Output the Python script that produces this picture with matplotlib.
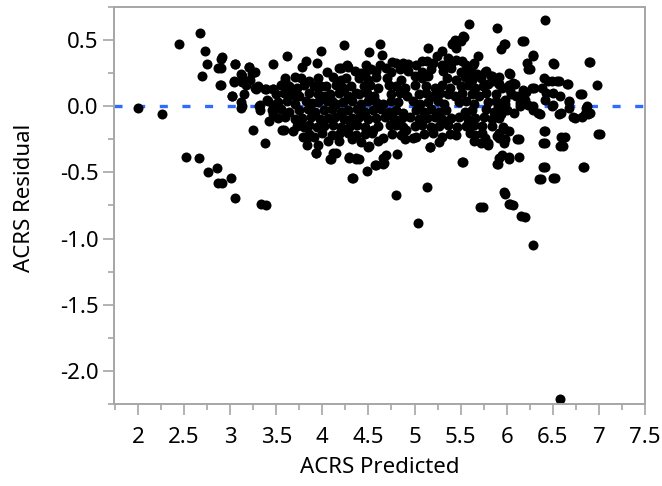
import matplotlib
matplotlib.use("Agg")
import matplotlib.pyplot as plt
from matplotlib.ticker import MultipleLocator

plt.rcParams['font.family'] = ['Noto Sans', 'DejaVu Sans']
plt.rcParams['lines.scale_dashes'] = False

# ---- data: (ACRS Predicted, ACRS Residual) ----
edge_x = [2.00, 2.26, 2.44, 2.67, 2.73, 2.75, 2.69, 2.90, 2.87, 2.89, 3.05, 3.04, 3.02, 3.13, 3.13,
          3.20, 3.27, 3.17, 3.27, 3.25, 3.38, 2.52, 2.66, 2.86, 2.76, 3.01, 2.87, 2.91, 3.05, 3.33,
          3.39, 3.46, 3.62, 3.31, 3.38, 3.46, 3.40, 3.46, 3.56, 3.68, 3.79, 3.79, 3.83, 3.93, 4.08,
          4.12, 4.24, 3.98, 3.94, 3.82, 3.78, 4.32, 4.29, 4.37, 4.48, 4.58, 4.67, 4.80, 4.51, 4.63,
          4.51, 4.65, 4.76, 4.20, 4.27, 4.47,
          6.41, 5.59, 5.89, 5.97, 5.94, 6.17, 6.89, 6.98, 6.50, 6.29, 6.22, 6.23, 6.03, 5.50, 5.44,
          5.53, 5.41, 5.15, 5.30, 5.69, 5.65, 5.78, 5.84, 5.89, 6.40, 6.45, 6.55, 6.65, 6.80, 6.68,
          6.86, 6.88, 6.82, 6.72, 6.57, 6.49, 6.42, 6.99, 6.40, 6.59, 6.58, 6.39, 6.39, 6.35, 6.50,
          6.83, 6.18, 6.27, 6.13, 6.20, 6.29, 6.34, 6.04, 6.07, 6.11, 6.02, 5.95, 5.90, 5.97, 6.03,
          6.16, 5.71, 5.51, 5.17, 5.14, 5.97, 5.98, 5.89, 5.80, 5.73, 5.73,
          5.04, 5.74, 6.07, 6.20, 6.28, 6.58,
          2.91, 2.90, 2.90, 3.05, 3.20, 3.24, 3.12, 3.04, 3.13, 3.22, 3.02, 3.15, 3.28, 3.30, 3.39,
          3.46, 3.12, 3.32, 3.41, 3.46, 3.59, 3.64, 3.66, 3.60, 3.77, 3.86, 3.91, 4.04, 4.08, 4.11,
          3.75, 3.82, 3.89, 4.18, 4.28, 4.26, 4.31, 4.24, 4.37,
          5.42, 5.49, 5.54, 5.45, 5.63, 4.53, 4.46, 4.62, 4.69, 4.87, 5.02, 5.13, 5.24, 5.36, 5.45,
          5.56, 5.76, 5.83, 5.85, 5.80, 5.00,
          5.92, 5.98, 6.19, 6.29, 6.25, 6.51, 6.90, 6.04, 5.92, 6.05, 6.09, 6.49, 6.57, 6.67, 6.82,
          6.21, 6.30, 6.38, 6.43, 6.50, 6.58, 6.87, 6.14, 6.23, 6.50, 6.68,
          3.12, 3.32, 3.46, 3.42, 3.58, 3.80, 3.84, 3.93, 3.95, 3.91, 4.09, 4.15, 4.29, 4.37, 4.33,
          4.06, 4.50, 4.57, 4.66, 4.69, 4.66, 4.81, 5.17, 5.53, 5.89, 4.40, 4.98, 5.30, 5.45, 5.76,
          5.80, 4.73, 4.55, 4.66, 4.91, 5.02,
          5.96, 6.14, 6.29, 6.36, 6.59, 6.68, 6.74, 6.85, 6.90, 5.92, 5.92, 5.96, 6.02, 5.97, 6.13,
          5.92, 5.92, 6.41, 6.41, 6.63, 6.61, 7.01, 5.92, 6.03, 6.13, 6.41, 6.37, 6.52, 6.84, 5.98,
          6.04, 5.98, 5.90, 5.94]
edge_y = [-0.01, -0.055, 0.47, 0.55, 0.42, 0.32, 0.23, 0.36, 0.29, 0.16, 0.32, 0.19, 0.075, 0.00, 0.23,
          0.30, 0.26, 0.16, 0.14, -0.18, -0.28, -0.38, -0.39, -0.47, -0.50, -0.54, -0.58, -0.58, -0.69, -0.735,
          -0.75, 0.32, 0.38, 0.005, 0.13, 0.13, 0.05, -0.025, -0.18, -0.19, -0.15, -0.23, -0.29, -0.35, -0.40,
          -0.35, 0.46, 0.415, 0.33, 0.34, 0.30, -0.54, -0.39, -0.40, -0.49, -0.445, -0.43, -0.67, -0.30, 0.47,
          0.41, 0.39, 0.335, 0.29, 0.315, 0.315,
          0.65, 0.62, 0.59, 0.47, 0.43, 0.49, 0.335, 0.16, 0.33, 0.39, 0.33, 0.28, 0.25, 0.49, 0.50,
          0.53, 0.47, 0.44, 0.415, 0.38, 0.33, 0.27, 0.23, 0.19, 0.215, 0.19, 0.19, 0.165, 0.09, 0.04,
          -0.01, -0.06, -0.08, -0.08, -0.06, 0.00, 0.05, -0.21, -0.19, -0.23, -0.30, -0.28, -0.46, -0.55, -0.54,
          -0.46, 0.125, 0.14, 0.075, 0.05, 0.00, -0.05, 0.125, 0.175, -0.25, -0.38, -0.365, -0.435, -0.65, -0.74,
          -0.83, -0.76, -0.42, -0.31, -0.61, -0.175, -0.25, -0.225, -0.28, -0.20, -0.15,
          -0.886, -0.76, -0.75, -0.84, -1.05, -2.21,
          0.37, 0.29, 0.16, 0.32, 0.30, 0.25, 0.24, 0.18, 0.18, 0.20, 0.08, 0.09, 0.13, 0.15, 0.13,
          0.13, 0.03, 0.01, 0.04, 0.01, 0.21, 0.15, 0.09, 0.19, 0.21, 0.19, 0.15, 0.15, 0.09, 0.04,
          0.075, 0.04, 0.025, 0.29, 0.30, 0.21, 0.15, 0.13, 0.10,
          0.48, 0.50, 0.52, 0.44, 0.315, 0.28, 0.24, 0.315, 0.29, 0.33, 0.315, 0.34, 0.38, 0.365, 0.35,
          0.315, 0.26, 0.23, 0.19, 0.165, 0.23,
          0.165, 0.47, 0.49, 0.38, 0.28, 0.32, 0.335, 0.245, 0.165, 0.09, 0.165, 0.19, 0.19, 0.17, 0.09,
          0.11, 0.14, 0.14, 0.10, 0.10, 0.075, 0.00, 0.025, 0.01, 0.01, 0.03,
          -0.01, -0.025, -0.06, -0.11, -0.18, -0.16, -0.23, -0.35, -0.29, -0.23, -0.40, -0.35, -0.385, -0.39, -0.54,
          -0.26, -0.31, -0.445, -0.44, -0.365, -0.39, -0.36, -0.31, -0.42, -0.435, -0.40, -0.24, -0.23, -0.22, -0.24,
          -0.29, -0.14, -0.18, -0.24, -0.18, -0.23,
          0.00, 0.00, -0.025, -0.06, -0.05, -0.01, -0.09, -0.06, -0.05, -0.05, -0.09, -0.16, -0.19, -0.28, -0.25,
          -0.24, -0.20, -0.19, -0.28, -0.23, -0.30, -0.21, -0.39, -0.40, -0.385, -0.46, -0.55, -0.54, -0.46, -0.66,
          -0.74, 0.05, 0.00, -0.06]

core_x = [4.80, 4.93, 5.08, 5.20, 5.30, 5.40, 5.52,
          4.05, 4.35, 4.42, 4.58, 4.75, 4.84, 4.93, 5.08, 5.18, 5.31, 5.40, 5.50, 5.60, 5.68,
          3.70, 3.95, 4.12, 4.20, 4.40, 4.50, 4.58, 4.70, 4.85, 5.08, 5.15, 5.35, 5.45, 5.55, 5.62, 5.72, 5.92,
          3.55, 3.72, 3.80, 3.98, 4.15, 4.22, 4.45, 4.52, 4.60, 4.72, 4.80, 4.90, 5.00, 5.12, 5.22, 5.30, 5.38,
          5.50, 5.58, 5.66, 5.74, 5.95, 6.02,
          3.50, 3.58, 3.70, 3.85, 3.95, 4.02, 4.18, 4.28, 4.40, 4.48, 4.56, 4.75, 4.84, 4.92, 5.05, 5.12, 5.20,
          5.28, 5.36, 5.44, 5.52, 5.62, 5.70, 5.78, 5.88, 6.10,
          3.52, 3.62, 3.70, 3.95, 4.05, 4.15, 4.22, 4.32, 4.42, 4.50, 4.58, 4.66, 4.74, 4.82, 4.98, 5.06, 5.15,
          5.25, 5.32, 5.48, 5.56, 5.64, 5.80, 5.88, 5.98,
          3.45, 3.55, 3.64, 3.75, 3.84, 3.92, 4.02, 4.10, 4.20, 4.28, 4.38, 4.46, 4.55, 4.64, 4.72, 4.80, 4.88,
          5.02, 5.10, 5.18, 5.26, 5.34, 5.55, 5.62, 5.78, 5.86, 6.00, 6.08,
          3.52, 3.60, 3.70, 3.78, 3.88, 3.97, 4.06, 4.14, 4.24, 4.32, 4.40, 4.50, 4.58, 4.68, 4.78, 4.86, 4.95,
          5.05, 5.14, 5.22, 5.30, 5.40, 5.48, 5.58, 5.66, 5.75, 5.84,
          3.72, 3.86, 3.94, 4.02, 4.12, 4.20, 4.30, 4.38, 4.46, 4.60, 4.80, 4.88, 5.00, 5.08, 5.18, 5.26, 5.36,
          5.46, 5.56, 5.64, 5.84,
          3.86, 4.00, 4.10, 4.18, 4.28, 4.36, 4.46, 4.54, 4.76, 4.85, 5.10, 5.20, 5.38, 5.60, 5.66,
          4.18, 4.32, 4.42, 4.60, 4.90, 5.26, 5.64, 5.72]
core_y = [0.33, 0.32, 0.34, 0.33, 0.31, 0.33, 0.34,
          0.26, 0.27, 0.25, 0.27, 0.26, 0.28, 0.27, 0.26, 0.28, 0.27, 0.29, 0.26, 0.27, 0.24,
          0.22, 0.21, 0.22, 0.20, 0.21, 0.20, 0.22, 0.21, 0.20, 0.21, 0.23, 0.21, 0.20, 0.22, 0.20, 0.21, 0.22,
          0.16, 0.14, 0.16, 0.15, 0.16, 0.14, 0.15, 0.16, 0.14, 0.16, 0.15, 0.14, 0.16, 0.15, 0.14, 0.16, 0.14,
          0.15, 0.16, 0.14, 0.15, 0.14, 0.16,
          0.09, 0.10, 0.08, 0.10, 0.09, 0.08, 0.10, 0.08, 0.09, 0.10, 0.08, 0.09, 0.10, 0.08, 0.09, 0.10, 0.08,
          0.10, 0.09, 0.08, 0.10, 0.09, 0.08, 0.10, 0.09, 0.08,
          0.03, 0.04, 0.02, 0.03, 0.04, 0.02, 0.03, 0.04, 0.02, 0.04, 0.03, 0.02, 0.04, 0.03, 0.04, 0.02, 0.03,
          0.04, 0.02, 0.03, 0.04, 0.02, 0.03, 0.04, 0.02,
          -0.03, -0.02, -0.04, -0.03, -0.02, -0.04, -0.03, -0.02, -0.04, -0.03, -0.02, -0.04, -0.03, -0.02, -0.04, -0.03, -0.05,
          -0.03, -0.04, -0.02, -0.04, -0.03, -0.04, -0.03, -0.02, -0.04, -0.03, -0.05,
          -0.09, -0.08, -0.10, -0.09, -0.08, -0.10, -0.09, -0.08, -0.10, -0.09, -0.08, -0.10, -0.09, -0.08, -0.10, -0.09, -0.08,
          -0.10, -0.09, -0.08, -0.10, -0.09, -0.08, -0.10, -0.09, -0.08, -0.10,
          -0.15, -0.14, -0.16, -0.15, -0.14, -0.16, -0.15, -0.14, -0.16, -0.15, -0.14, -0.16, -0.15, -0.14, -0.16, -0.15, -0.14,
          -0.16, -0.15, -0.14, -0.15,
          -0.21, -0.20, -0.22, -0.21, -0.20, -0.22, -0.21, -0.20, -0.21, -0.22, -0.21, -0.20, -0.21, -0.20, -0.22,
          -0.26, -0.25, -0.27, -0.26, -0.25, -0.27, -0.26, -0.28]

x_ticks = [2, 2.5, 3, 3.5, 4, 4.5, 5, 5.5, 6, 6.5, 7, 7.5]
x_tick_labels = ["2", "2.5", "3", "3.5", "4", "4.5", "5", "5.5", "6", "6.5", "7", "7.5"]
y_ticks = [-2.0, -1.5, -1.0, -0.5, 0.0, 0.5]
y_tick_labels = ["-2.0", "-1.5", "-1.0", "-0.5", "0.0", "0.5"]
ref_value = 0.0

fig = plt.figure(figsize=(6.62, 4.86), dpi=100)
ax = fig.add_axes([114/662, 1-404/486, (645-114)/662, (404-7)/486])

ax.axhline(ref_value, color='#2f6bff', lw=2.4, dashes=(5.8, 10.5), zorder=1)
ax.scatter(edge_x + core_x, edge_y + core_y, s=52, c='black', linewidths=0, zorder=2)

ax.set_xlim(1.74, 7.5)
ax.set_ylim(-2.25, 0.75)
ax.set_xticks(x_ticks)
ax.set_xticklabels(x_tick_labels)
ax.set_yticks(y_ticks)
ax.set_yticklabels(y_tick_labels)
ax.xaxis.set_minor_locator(MultipleLocator(0.25))
ax.yaxis.set_minor_locator(MultipleLocator(0.25))

gray = '#a6a6a6'
for sp in ax.spines.values():
    sp.set_color(gray)
    sp.set_linewidth(1.4)
ax.tick_params(which='major', length=8, width=1.2, color=gray, labelsize=16, labelcolor='black')
ax.tick_params(which='minor', length=4, width=1.2, color=gray)
ax.tick_params(axis='x', which='major', pad=8.5)
ax.tick_params(axis='y', which='major', pad=3)

ax.set_xlabel("ACRS Predicted", fontsize=16)
ax.set_ylabel("ACRS Residual", fontsize=16)
ax.xaxis.set_label_coords(0.5, -0.133)
ax.yaxis.set_label_coords(-0.149, 0.52)

fig.savefig("out.png", dpi=100)
